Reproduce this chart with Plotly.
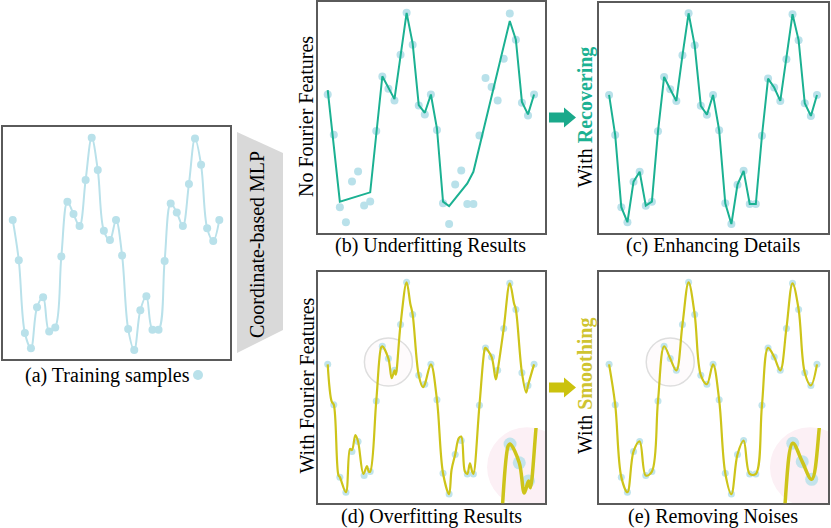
import plotly.graph_objects as go

W, H = 831, 528

# training samples (index along the signal, height in % of the frame)
sample_t = list(range(35))
sample_v = [60.0, 42.6, 11.3, 4.8, 22.4, 26.7, 12.0, 13.7, 44.2, 67.8,
            62.5, 57.4, 77.2, 95.4, 81.5, 55.3, 51.4, 60.0, 44.7, 13.0,
            4.0, 21.1, 27.1, 12.7, 12.7, 42.3, 67.1, 63.2, 57.4, 75.5,
            95.0, 83.7, 56.4, 50.9, 60.0]

# (b) underfitting fit: a coarse polyline
underfit_t = [0, 2, 7, 9, 11, 13, 14, 15, 16, 17, 18, 19, 20, 23, 24, 30, 31, 32, 33, 34]
underfit_v = [61.9, 13.7, 17.7, 67.9, 58.0, 95.3, 82.0, 55.4, 52.1, 60.0,
              45.3, 13.7, 11.8, 21.6, 26.6, 91.8, 83.7, 56.8, 51.4, 60.0]

# (d) overfitting fit: wiggles between samples
overfit_t = [0, 0.66, 1, 1.76, 2, 3, 3.68, 4, 4.56, 5, 5.88, 6.48, 6.76, 7, 8, 8.8, 9,
             10, 10.55, 11, 11.2, 12, 13, 13.6, 14, 15, 15.7, 16, 17, 18, 19, 20,
             20.4, 21, 21.6, 22, 22.6, 23, 23.43, 23.8, 24, 25, 25.9, 26, 27, 27.7,
             28, 29, 30, 30.7, 31, 32, 32.7, 33, 34]
overfit_v = [60.0, 43.9, 42.6, 12.2, 11.3, 4.8, 23.5, 23.0, 29.5, 26.7, 12.7, 16.1, 13.7, 13.7, 44.2, 67.3, 67.8,
             62.5, 54.0, 57.4, 55.5, 77.2, 95.4, 86.3, 81.5, 55.3, 50.1, 51.4, 60.0, 44.7, 13.0, 4.0,
             14.4, 21.1, 28.1, 28.8, 13.7, 12.7, 17.3, 13.7, 12.7, 42.3, 66.9, 67.1, 63.2, 53.5,
             57.4, 75.5, 95.0, 86.3, 83.7, 56.4, 47.8, 50.9, 60.0]

captions = ['(a) Training samples', '(b) Underfitting Results', '(c) Enhancing Details',
            '(d) Overfitting Results', '(e) Removing Noises']

DOT = '#b9e1ea'
TEAL = '#1bb192'
OLIVE = '#cdc41a'
FRAME = '#5a5a5a'
FONT = 'Liberation Serif'
X_RANGE = [-1.6, 35.85]


def px_x(p):
    return p / W


def px_y(p):
    return 1 - p / H


fig = go.Figure()


def _add_axes(n, box, xr, yr, framed=True):
    l, t, r, b = box
    common = dict(showline=framed, mirror=True, linecolor=FRAME, linewidth=1.5,
                  showgrid=False, zeroline=False, showticklabels=False, ticks='',
                  fixedrange=True)
    fig.update_layout(**{
        f'xaxis{n}': dict(domain=[px_x(l), px_x(r)], range=xr, anchor=f'y{n}', **common),
        f'yaxis{n}': dict(domain=[px_y(b), px_y(t)], range=yr, anchor=f'x{n}', **common),
    })


def _dots(n, size=8, opacity=1.0):
    return go.Scatter(x=sample_t, y=sample_v, mode='markers', xaxis=f'x{n}', yaxis=f'y{n}',
                      marker=dict(size=size, color=DOT, opacity=opacity), showlegend=False,
                      hoverinfo='skip')


def _curve(n, t, v, color, width=2, shape='linear'):
    return go.Scatter(x=t, y=v, mode='lines', xaxis=f'x{n}', yaxis=f'y{n}',
                      line=dict(color=color, width=width, shape=shape, smoothing=1.0),
                      showlegend=False, hoverinfo='skip')


# frames (left, top, right, bottom) in pixels
_add_axes('', (3.3, 127, 230, 359.3), [-1.55, 35.76], [0, 100])
_add_axes('2', (318, 2, 545.3, 233.3), X_RANGE, [0, 100])
_add_axes('3', (599.3, 2.7, 828.3, 233.3), X_RANGE, [0, 100])
_add_axes('4', (318, 271.7, 545.3, 503.3), X_RANGE, [0, 100])
_add_axes('5', (599.3, 271.7, 828.3, 503.3), X_RANGE, [0, 100])
# zoomed insets of the circled region
_add_axes('6', (488, 428, 545.3, 503.3), [6.6, 12.83], [51.1, 72.3], framed=False)
_add_axes('7', (770, 428, 828.3, 503.3), [6.59, 12.76], [50.5, 72.2], framed=False)

# (a) training samples
fig.add_trace(go.Scatter(x=sample_t, y=sample_v, mode='lines+markers', xaxis='x', yaxis='y',
                         line=dict(color=DOT, width=2, shape='spline', smoothing=1.0),
                         marker=dict(size=8, color=DOT), showlegend=False, hoverinfo='skip'))
# (b) underfitting
fig.add_trace(_dots('2'))
fig.add_trace(_curve('2', underfit_t, underfit_v, TEAL))
# (c) recovered
fig.add_trace(_dots('3'))
fig.add_trace(_curve('3', sample_t, sample_v, TEAL))
# (d) overfitting
fig.add_trace(_dots('4', size=7, opacity=0.9))
fig.add_trace(_curve('4', overfit_t, overfit_v, OLIVE, width=2.2, shape='spline'))
# (e) smoothed
fig.add_trace(_dots('5', size=7, opacity=0.9))
fig.add_trace(_curve('5', sample_t, sample_v, OLIVE, width=2.2, shape='spline'))
# insets
fig.add_trace(_dots('6', size=13, opacity=0.85))
fig.add_trace(_curve('6', overfit_t, overfit_v, OLIVE, width=3.5, shape='spline'))
fig.add_trace(_dots('7', size=13, opacity=0.85))
fig.add_trace(_curve('7', sample_t, sample_v, OLIVE, width=3.5, shape='spline'))

shapes = []
for n in ('4', '5'):
    # magnifier background, clipped by the frame
    shapes.append(dict(type='circle', xref=f'x{n}', yref=f'y{n}', xsizemode='pixel', ysizemode='pixel',
                       xanchor=32.85, yanchor=15.6, x0=-40, x1=40, y0=-40, y1=40,
                       fillcolor='#fcf0f5', line=dict(width=0), layer='below'))
    # circled region
    shapes.append(dict(type='circle', xref=f'x{n}', yref=f'y{n}', xsizemode='pixel', ysizemode='pixel',
                       xanchor=10, yanchor=61, x0=-24, x1=24, y0=-24, y1=24,
                       fillcolor='rgba(252,244,247,0.4)', line=dict(color='#dedede', width=1.5),
                       layer='below'))


def _path(points):
    return 'M ' + ' L '.join(f'{px_x(x):.5f},{px_y(y):.5f}' for x, y in points) + ' Z'


# MLP block
shapes.append(dict(type='path', xref='paper', yref='paper',
                   path=_path([(237, 132), (283, 153), (283, 330), (237, 353)]),
                   fillcolor='#d9d9d9', line=dict(width=0)))
# block arrows
for cy, color in ((117.5, '#1aa98b'), (387.5, '#cbc20e')):
    shapes.append(dict(type='path', xref='paper', yref='paper',
                       path=_path([(549, cy - 5), (564, cy - 5), (564, cy - 10), (576, cy),
                                   (564, cy + 10), (564, cy + 5), (549, cy + 5)]),
                       fillcolor=color, line=dict(width=0)))
# legend dot next to caption (a)
shapes.append(dict(type='circle', xref='paper', yref='paper',
                   x0=px_x(193), x1=px_x(203), y0=px_y(380), y1=px_y(370),
                   fillcolor=DOT, line=dict(width=0)))

annotations = []
caption_pos = [(107.5, 375), (430, 245), (713, 245), (431, 516), (713, 516)]
for text, (cx, cy) in zip(captions, caption_pos):
    annotations.append(dict(text=text, x=px_x(cx), y=px_y(cy), xref='paper', yref='paper',
                            showarrow=False, xanchor='center', yanchor='middle',
                            font=dict(family=FONT, size=20, color='black')))

side_labels = [
    ('No Fourier Features', 306, 117),
    ('With Fourier Features', 306, 385.5),
    (f"With <b><span style='color:{TEAL}'>Recovering</span></b>", 585, 117.5),
    (f"With <b><span style='color:#cfc431'>Smoothing</span></b>", 585, 386),
    ('Coordinate-based MLP', 257, 245),
]
for text, cx, cy in side_labels:
    annotations.append(dict(text=text, x=px_x(cx), y=px_y(cy), xref='paper', yref='paper',
                            showarrow=False, textangle=-90, xanchor='center', yanchor='middle',
                            font=dict(family=FONT, size=20, color='black')))

fig.update_layout(width=W, height=H, margin=dict(l=0, r=0, t=0, b=0),
                  paper_bgcolor='white', plot_bgcolor='rgba(0,0,0,0)',
                  shapes=shapes, annotations=annotations, showlegend=False)

# the page body has a default 8px margin; drop it so the figure sits at the window corner
fig.write_html("out.html", config={'displayModeBar': False},
               post_script="document.body.style.margin='0';")
